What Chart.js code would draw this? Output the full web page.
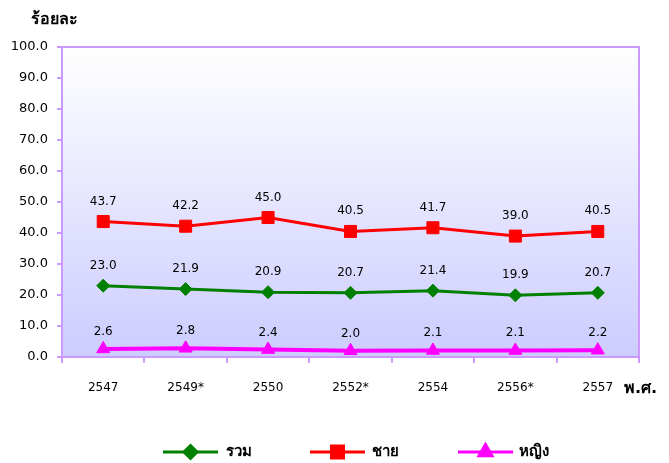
<!DOCTYPE html>
<html><head><meta charset="utf-8">
<script src="https://cdn.jsdelivr.net/npm/chart.js@4"></script>
<style>html,body{margin:0;padding:0;background:#fff}#w{width:669px;height:463px}</style>
</head><body><div id="w"><canvas id="c" width="669" height="463"></canvas></div>
<script>
const categories = ['2547','2549*','2550','2552*','2554','2556*','2557'];
const totalValues = [23.0, 21.9, 20.9, 20.7, 21.4, 19.9, 20.7];
const maleValues = [43.7, 42.2, 45.0, 40.5, 41.7, 39.0, 40.5];
const femaleValues = [2.6, 2.8, 2.4, 2.0, 2.1, 2.1, 2.2];
const seriesNames = ['รวม', 'ชาย', 'หญิง'];
const yTitle = 'ร้อยละ';
const xTitle = 'พ.ศ.';

const FONT = "Tahoma, 'DejaVu Sans', 'Noto Sans', sans-serif";
const PURPLE = '#CC99FF';
const colors = ['#008000', '#FF0000', '#FF00FF'];
const styles = ['rectRot', 'rect', 'triangle'];
const radii = [6.5, 8.5, 7.5];

const bgPlugin = {
  id: 'bg',
  beforeDraw(chart) {
    const {ctx, chartArea: a} = chart;
    const g = ctx.createLinearGradient(0, a.top, 0, a.bottom);
    g.addColorStop(0, '#FFFFFF');
    g.addColorStop(1, '#CCCCFF');
    ctx.save();
    ctx.fillStyle = g;
    ctx.fillRect(a.left, a.top, a.right - a.left, a.bottom - a.top);
    ctx.restore();
  },
  afterDraw(chart) {
    const {ctx, chartArea: a} = chart;
    ctx.save();
    ctx.strokeStyle = PURPLE;
    ctx.lineWidth = 2;
    ctx.strokeRect(a.left, a.top, a.right - a.left, a.bottom - a.top);
    // data labels
    ctx.fillStyle = '#000';
    ctx.font = "12px " + FONT;
    ctx.textAlign = 'center';
    ctx.textBaseline = 'alphabetic';
    chart.data.datasets.forEach((ds, i) => {
      const meta = chart.getDatasetMeta(i);
      meta.data.forEach((pt, j) => {
        const off = i === 2 ? 14 : 17;
        ctx.fillText(ds.data[j].toFixed(1), pt.x, pt.y - off);
      });
    });
    // titles
    ctx.font = "bold 16px " + FONT;
    ctx.textAlign = 'left';
    ctx.textBaseline = 'middle';
    ctx.fillText(yTitle, 31, 20);
    ctx.fillText(xTitle, 624, 389);
    // legend
    const items = [[163, 226], [310, 372], [458, 519]];
    const ly = 452;
    items.forEach((it, i) => {
      ctx.strokeStyle = colors[i];
      ctx.lineWidth = 3;
      ctx.beginPath();
      ctx.moveTo(it[0], ly);
      ctx.lineTo(it[0] + 55, ly);
      ctx.stroke();
      Chart.helpers.drawPoint(ctx, {pointStyle: styles[i], radius: radii[i], borderWidth: 1}, it[0] + 27.5, ly);
      ctx.fillStyle = colors[i];
      ctx.fill();
      ctx.fillStyle = '#000';
      ctx.font = "bold 15px " + FONT;
      ctx.fillText(seriesNames[i], it[1], ly);
    });
    ctx.restore();
  }
};

const datasets = [totalValues, maleValues, femaleValues].map((d, i) => ({
  label: seriesNames[i],
  data: d,
  borderColor: colors[i],
  backgroundColor: colors[i],
  borderWidth: i === 2 ? 4 : 3,
  pointStyle: styles[i],
  pointRadius: radii[i],
  pointHoverRadius: radii[i],
  pointBorderWidth: 1,
  tension: 0,
  fill: false
}));

new Chart(document.getElementById('c'), {
  type: 'line',
  data: { labels: categories, datasets },
  options: {
    responsive: false,
    animation: false,
    events: [],
    layout: { padding: { top: 47, right: 30, bottom: 0, left: 0 } },
    plugins: { legend: { display: false }, tooltip: { enabled: false } },
    scales: {
      x: {
        offset: true,
        grid: { display: true, drawOnChartArea: false, drawTicks: true, tickLength: 6, color: PURPLE, lineWidth: 2, offset: true },
        border: { color: PURPLE, width: 2 },
        ticks: { color: '#000', font: { family: FONT, size: 12 }, padding: 18, maxRotation: 0, autoSkip: false },
        afterFit(s) { s.height = 106; }
      },
      y: {
        min: 0, max: 100,
        grid: { display: true, drawOnChartArea: false, drawTicks: true, tickLength: 5, color: PURPLE, lineWidth: 2 },
        border: { color: PURPLE, width: 2 },
        ticks: { stepSize: 10, color: '#000', font: { family: FONT, size: 13 }, padding: 9, callback: v => Number(v).toFixed(1) },
        afterFit(s) { s.width = 62; }
      }
    }
  },
  plugins: [bgPlugin]
});
</script></body></html>
